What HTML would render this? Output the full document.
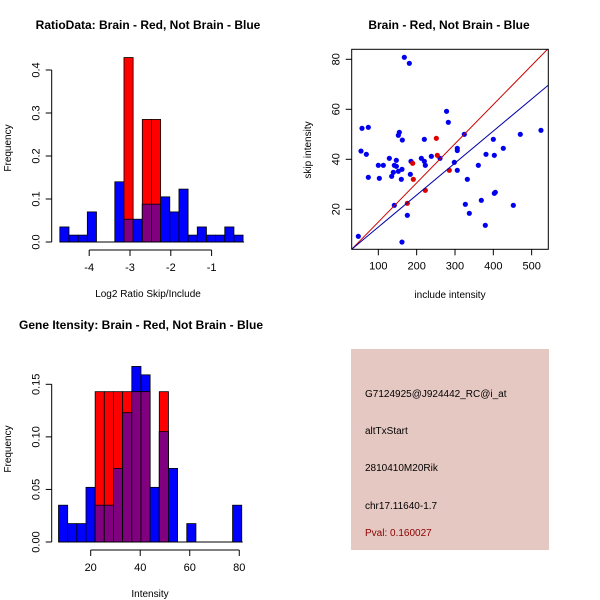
<!DOCTYPE html>
<html><head><meta charset="utf-8"><style>
body{margin:0;background:#fff}
svg{display:block;font-family:"Liberation Sans",Arial,sans-serif}
</style></head><body>
<svg id="c" width="600" height="600"></svg>
<script>
// Top-left histogram data (log2 ratio)
const ratioBinStart = -4.72, ratioBinWidth = 0.2246;
const ratioBlue = [0.035,0.016,0.016,0.07,0,0,0.14,0.053,0.053,0.088,0.088,0.105,0.07,0.123,0.016,0.035,0.016,0.016,0.035,0.016];
const ratioRed  = [0,0,0,0,0,0,0,0.429,0,0.285,0.285,0,0,0,0,0,0,0,0,0];
const ratioXTicks = [-4,-3,-2,-1];
const ratioYTicks = [0,0.1,0.2,0.3,0.4];
// Bottom-left histogram data (intensity)
const intBinStart = 7, intBinWidth = 3.7;
const intBlue = [0.035,0.0175,0.0175,0.052,0.035,0.035,0.07,0.123,0.167,0.159,0.052,0.105,0.07,0,0.0175,0,0,0,0,0.035];
const intRed  = [0,0,0,0,0.143,0.143,0.143,0.143,0.143,0.143,0,0.143,0,0,0,0,0,0,0,0];
const intXTicks = [20,40,60,80];
const intYTicks = [0,0.05,0.1,0.15];
// Scatter data
const blueX = [167.8,180.9,278,282.6,57.4,73.9,154.8,152.2,162.6,220,324.3,400,470.4,524.3,54.8,68.7,306,306,426,380.9,402.6,128.7,147,185.2,212.2,220,238.3,260.9,100,113,141.7,147,222.6,298.3,360.9,161.7,139.1,152.2,183.5,134.8,73.9,102.6,160,306,332.2,141.7,327,368.7,402.6,405.2,452.2,337.4,175.7,379.1,47.8,161.7];
const blueY = [80.8,78.4,59.2,54.8,52.4,52.8,50.8,49.6,47.7,48.0,50.0,48.0,50.0,51.6,43.3,42.0,44.4,43.5,44.4,42.0,41.6,40.4,39.6,39.2,40.4,39.2,41.2,40.4,37.6,37.6,37.6,37.2,37.6,38.8,37.6,36.0,34.8,35.2,34.0,33.2,32.8,32.4,32.0,35.6,32.0,21.6,22.0,23.6,26.4,26.8,21.6,18.4,17.6,13.6,9.2,6.9];
const redX = [251.3,253.9,189.6,191.3,285.2,222.6,175.7];
const redY = [48.4,41.6,38.4,32.0,35.6,27.6,22.4];
const fitRed = [-0.76,0.1566];
const fitBlue = [0.1,0.128];
const scatXTicks = [100,200,300,400,500];
const scatYTicks = [20,40,60,80];

const NS="http://www.w3.org/2000/svg", svg=document.getElementById('c');
function el(tag,attrs,parent,text){const e=document.createElementNS(NS,tag);for(const k in attrs)e.setAttribute(k,attrs[k]);if(text!==undefined)e.textContent=text;(parent||svg).appendChild(e);return e;}
function grp(name){const g=el('g',{});return g;}

function hist(name,bStart,bW,blue,red,sx,sy,yAxisX,xAxisY,xT,yT,fmtY,title,xlab,titleX,titleY,ylabY,xlabX){
  const g=grp(name);
  const bars=grp(name+'-bars');g.appendChild(bars);
  for(let i=0;i<blue.length;i++){
    const a=sx(bStart+i*bW),b=sx(bStart+(i+1)*bW);
    if(blue[i]>0){const r=el('rect',{x:a,y:sy(blue[i]),width:b-a,height:sy(0)-sy(blue[i]),fill:'#0000ff',stroke:'#000','stroke-width':0.8},bars);
      }
    if(red[i]>0){const r=el('rect',{x:a,y:sy(red[i]),width:b-a,height:sy(0)-sy(red[i]),fill:'#ff0000',stroke:'#000','stroke-width':0.8},bars);
      
      const m=Math.min(red[i],blue[i]);
      if(m>0){const p=el('rect',{x:a,y:sy(m),width:b-a,height:sy(0)-sy(m),fill:'#800080',stroke:'#000','stroke-width':0.8},bars);
        }}
  }
  el('line',{x1:sx(bStart),x2:sx(bStart+blue.length*bW)+1,y1:sy(0),y2:sy(0),stroke:'#000'},g);
  const xa=grp(name+'-x-axis');g.appendChild(xa);
  el('line',{x1:sx(xT[0]),x2:sx(xT[xT.length-1]),y1:xAxisY,y2:xAxisY,stroke:'#000'},xa);
  xT.forEach(t=>{el('line',{x1:sx(t),x2:sx(t),y1:xAxisY,y2:xAxisY+6,stroke:'#000'},xa);
    const tx=el('text',{x:sx(t),y:xAxisY+21,'font-size':11,'text-anchor':'middle'},xa,String(t));});
  const ya=grp(name+'-y-axis');g.appendChild(ya);
  el('line',{x1:yAxisX,x2:yAxisX,y1:sy(yT[0]),y2:sy(yT[yT.length-1]),stroke:'#000'},ya);
  yT.forEach(t=>{el('line',{x1:yAxisX-6,x2:yAxisX,y1:sy(t),y2:sy(t),stroke:'#000'},ya);
    const tx=el('text',{x:0,y:0,'font-size':11,'text-anchor':'middle',transform:`translate(${yAxisX-12},${sy(t)}) rotate(-90)`},ya,fmtY(t));});
  const yl=el('text',{x:0,y:0,'font-size':10,'text-anchor':'middle',transform:`translate(11,${ylabY}) rotate(-90)`},g,'Frequency');
  
  const xl=el('text',{x:xlabX,y:xAxisY+47,'font-size':10,'text-anchor':'middle'},g,xlab);
  
  const tt=el('text',{x:titleX,y:titleY,'font-size':12,'font-weight':'bold','text-anchor':'middle'},g,title);
  
}
hist('ratio-hist',ratioBinStart,ratioBinWidth,ratioBlue,ratioRed,
  v=>130+(v+3)*40.8, v=>242-v*430, 51.7, 250, ratioXTicks, ratioYTicks,
  t=>t===0?'0.0':String(t), 'RatioData: Brain - Red, Not Brain - Blue','Log2 Ratio Skip/Include',148,29,148,148);
hist('intensity-hist',intBinStart,intBinWidth,intBlue,intRed,
  v=>90.7+(v-20)*2.476, v=>542-v*1051.3, 51.7, 550, intXTicks, intYTicks,
  t=>t.toFixed(2), 'Gene Itensity: Brain - Red, Not Brain - Blue','Intensity',141,329,449,150);

(function(){
  const g=grp('scatter-plot');
  const L=351.7,R=548.3,T=49.3,B=249.3;
  const sx=v=>340+v*0.3833, sy=v=>259.3-v*2.5;
  const cp=el('clipPath',{id:'sc'},g);el('rect',{x:L,y:T,width:R-L,height:B-T},cp);
  const pts=grp('scatter-points');g.appendChild(pts);
  blueX.forEach((x,i)=>{const c=el('circle',{cx:sx(x),cy:sy(blueY[i]),r:2.6,fill:'#0000ee'},pts);});
  redX.forEach((x,i)=>{const c=el('circle',{cx:sx(x),cy:sy(redY[i]),r:2.6,fill:'#dd0000'},pts);});
  [[fitRed,'#cc0000','red-fit-line'],[fitBlue,'#0000aa','blue-fit-line']].forEach(([f,col,n])=>{
    const x1=0,x2=700;const l=el('line',{x1:sx(x1),y1:sy(f[0]+f[1]*x1),x2:sx(x2),y2:sy(f[0]+f[1]*x2),stroke:col,'stroke-width':1,'clip-path':'url(#sc)'},g);
    });
  el('rect',{x:L,y:T,width:R-L,height:B-T,fill:'none',stroke:'#000'},g);
  scatXTicks.forEach(t=>{el('line',{x1:sx(t),x2:sx(t),y1:B,y2:B+6,stroke:'#000'},g);
    const tx=el('text',{x:sx(t),y:B+20,'font-size':11,'text-anchor':'middle'},g,String(t));});
  scatYTicks.forEach(t=>{el('line',{x1:L-6,x2:L,y1:sy(t),y2:sy(t),stroke:'#000'},g);
    const tx=el('text',{x:0,y:0,'font-size':11,'text-anchor':'middle',transform:`translate(${L-12},${sy(t)}) rotate(-90)`},g,String(t));});
  const xl=el('text',{x:450,y:298,'font-size':10,'text-anchor':'middle'},g,'include intensity');
  const yl=el('text',{x:0,y:0,'font-size':10,'text-anchor':'middle',transform:'translate(311,150) rotate(-90)'},g,'skip intensity');
  const tt=el('text',{x:449,y:29,'font-size':12,'font-weight':'bold','text-anchor':'middle'},g,'Brain - Red, Not Brain - Blue');
})();

(function(){
  const g=grp('info-panel');
  el('rect',{x:351,y:349,width:198,height:201,fill:'#e6c8c2'},g);
  const lines=[['G7124925@J924442_RC@i_at',397,'#000','probe-id'],['altTxStart',434,'#000','event-type'],['2810410M20Rik',471,'#000','gene-name'],['chr17.11640-1.7',509,'#000','location'],['Pval: 0.160027',536,'#8b0000','p-value']];
  lines.forEach(([t,y,c,n])=>{const e=el('text',{x:365,y:y,'font-size':10,fill:c},g,t);});
})();
</script>
</body></html>
